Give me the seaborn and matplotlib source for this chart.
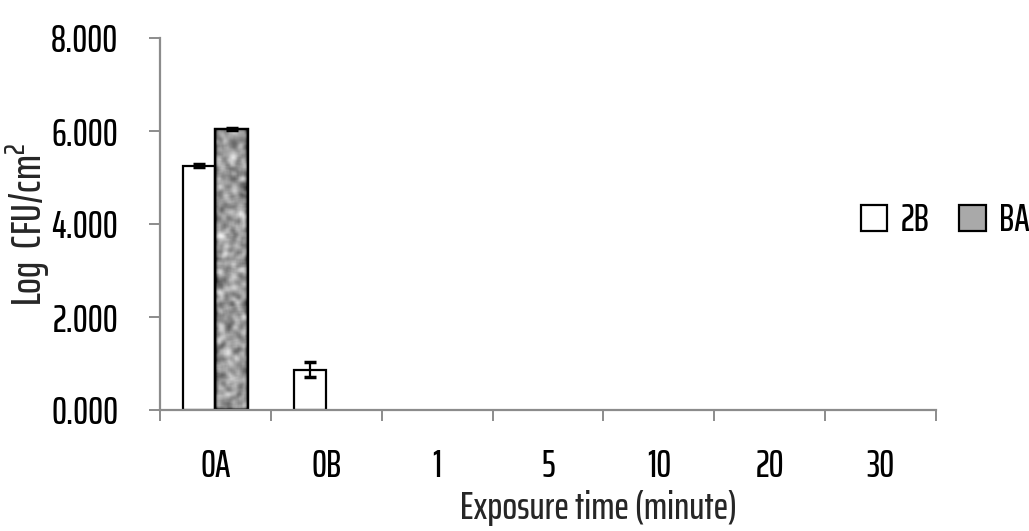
import numpy as np
import pandas as pd
import matplotlib
matplotlib.use("Agg")
import matplotlib.pyplot as plt
import seaborn as sns
from matplotlib.patches import Patch

categories = ["0A", "0B", "1", "5", "10", "20", "30"]
vals_2b = [5.25, 0.87, 0, 0, 0, 0, 0]
vals_ba = [6.05, 0, 0, 0, 0, 0, 0]
err_2b = [0.03, 0.17, 0, 0, 0, 0, 0]
err_ba = [0.02, 0, 0, 0, 0, 0, 0]
series = ["2B", "BA"]
yticks = [0, 2, 4, 6, 8]

df = pd.DataFrame({
    "time": categories * 2,
    "logcfu": vals_2b + vals_ba,
    "group": ["2B"] * len(categories) + ["BA"] * len(categories),
})

sns.set_style("white")
plt.rcParams["font.family"] = ["Saira ExtraCondensed", "DejaVu Sans"]
plt.rcParams["font.weight"] = "medium"
plt.rcParams["axes.labelweight"] = "medium"
plt.rcParams["mathtext.fontset"] = "custom"
plt.rcParams["mathtext.rm"] = "Saira ExtraCondensed:medium"
plt.rcParams["text.color"] = "black"
FS = 27


def mottled(h, w, seed=3, k=5):
    # smoothed noise, only used as a fill texture
    g = np.random.default_rng(seed).random((h, w))
    ker = np.ones(k) / k
    for _ in range(2):
        g = np.apply_along_axis(lambda r: np.convolve(r, ker, mode="same"), 1, g)
        g = np.apply_along_axis(lambda c: np.convolve(c, ker, mode="same"), 0, g)
    return (g - g.mean()) / g.std()


fig = plt.figure(figsize=(10.29, 5.31), dpi=100)
ax = fig.add_axes([160 / 1029, 1 - 410 / 531, 776 / 1029, 372 / 531])

sns.barplot(data=df, x="time", y="logcfu", hue="group", order=categories,
            hue_order=series, palette=["white", "#a9a9a9"], errorbar=None,
            width=0.58, gap=0.0, edgecolor="black", linewidth=1.6,
            legend=False, ax=ax)

n = len(categories)
bars_2b = ax.patches[:n]
bars_ba = ax.patches[n:2 * n]
for bars, errs in [(bars_2b, err_2b), (bars_ba, err_ba)]:
    for b, e in zip(bars, errs):
        h = b.get_height()
        if h <= 0:
            b.set_linewidth(0)
            continue
        xc = b.get_x() + b.get_width() / 2
        ax.errorbar(xc, h, yerr=e, color="black", capsize=4, elinewidth=1.6,
                    capthick=2.5, zorder=5)

tex = mottled(290, 34)
for b in bars_ba:
    if b.get_height() > 0:
        im = ax.imshow(tex, cmap="gray", vmin=-3.2, vmax=2.6, aspect="auto",
                       interpolation="bilinear",
                       extent=[b.get_x(), b.get_x() + b.get_width(), 0, b.get_height()],
                       zorder=b.get_zorder() + 0.1)
        im.set_clip_path(b)
        ax.add_patch(plt.Rectangle((b.get_x(), 0), b.get_width(), b.get_height(),
                                   fill=False, edgecolor="black", linewidth=1.6,
                                   zorder=b.get_zorder() + 0.2))

ax.set_xlim(-0.5, n - 0.5)
ax.set_ylim(0, 8)
ax.set_yticks(yticks)
ax.set_yticklabels([f"{v:.3f}" for v in yticks])
ax.set_xticks(np.arange(n))
ax.set_xticklabels(categories)
ax.set_xticks(np.arange(-0.5, n), minor=True)

sns.despine(ax=ax, top=True, right=True)
for s in ["left", "bottom"]:
    ax.spines[s].set_color("#8c8c8c")
    ax.spines[s].set_linewidth(1.6)

ax.tick_params(axis="y", which="major", left=True, length=8, width=1.4,
               color="#8c8c8c", labelsize=FS, labelcolor="black", pad=22)
ax.tick_params(axis="x", which="major", bottom=False, labelsize=FS,
               labelcolor="black", pad=24)
ax.tick_params(axis="x", which="minor", bottom=True, length=8, width=1.4,
               color="#8c8c8c")

ax.set_xlabel("Exposure time (minute)", fontsize=28)
ax.xaxis.set_label_coords((598 - 160) / 776, -80 / 372)
ax.set_ylabel("Log  CFU/cm$^2$", fontsize=30)
ax.yaxis.set_label_coords(-108 / 776, 0.5)

handles = [Patch(facecolor="white", edgecolor="black", linewidth=1.6, label="2B"),
           Patch(facecolor="#a9a9a9", edgecolor="black", linewidth=1.6, label="BA")]
fig.legend(handles=handles, loc="center left", bbox_to_anchor=(861 / 1029, 1 - 220 / 531),
           ncol=2, frameon=False, fontsize=FS, handlelength=0.7, handleheight=0.7,
           handletextpad=0.35, columnspacing=0.8, borderpad=0, borderaxespad=0)

fig.savefig("out.png", dpi=100)
